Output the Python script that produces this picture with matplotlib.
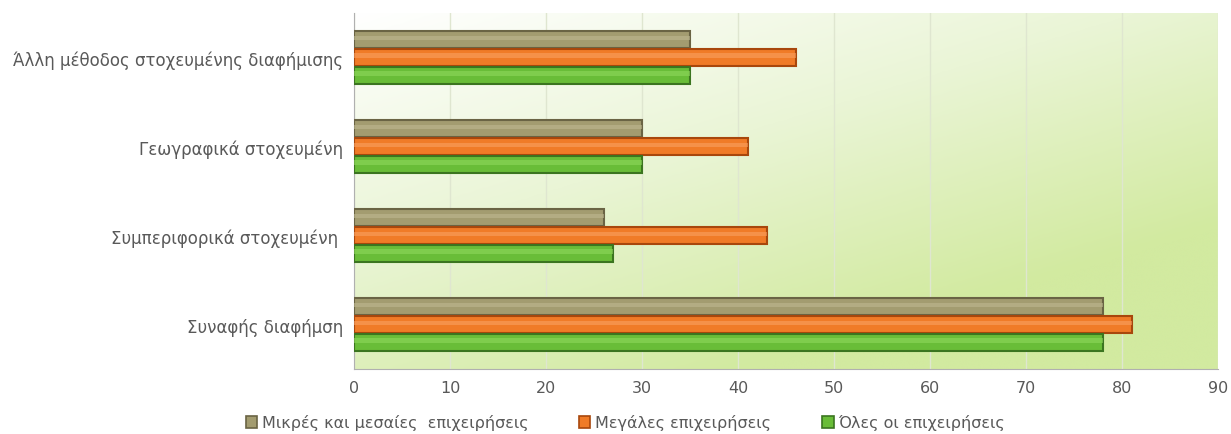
import numpy as np
import matplotlib
matplotlib.use("Agg")
import matplotlib.pyplot as plt
from matplotlib.colors import LinearSegmentedColormap
from matplotlib.patches import Patch

categories = ["Συναφής διαφήμση", "Συμπεριφορικά στοχευμένη ",
              "Γεωγραφικά στοχευμένη", "Άλλη μέθοδος στοχευμένης διαφήμισης"]
series = ["Μικρές και μεσαίες  επιχειρήσεις", "Μεγάλες επιχειρήσεις", "Όλες οι επιχειρήσεις"]
small_medium = [78, 26, 30, 35]
large = [81, 43, 41, 46]
all_firms = [78, 27, 30, 35]
xticks = list(range(0, 91, 10))

faces = ["#a39c70", "#f07b27", "#69bd38"]
edges = ["#6a6444", "#a8470c", "#3b7520"]
lights = ["#beb891", "#f9a060", "#8fd85c"]

plt.rcParams['font.family'] = ['DejaVu Sans']
fig = plt.figure(figsize=(12.31, 4.35), dpi=100)
ax = fig.add_axes([0.2876, 0.149, 0.7018, 0.819])

# background gradient: white top-left -> light green bottom-right
gx, gy = np.meshgrid(np.linspace(0, 1, 200), np.linspace(0, 1, 200))
g = np.clip(0.55 * gx + 0.75 * gy, 0, 1)
cmap = LinearSegmentedColormap.from_list("bg", ["#ffffff", "#eaf5d6", "#d2eaa0"])
ax.imshow(g, cmap=cmap, extent=[0, 90, -0.5, 3.5], aspect="auto",
          origin="upper", zorder=0, interpolation="bicubic")

y = np.arange(len(categories))
h = 0.2
offsets = [h, 0, -h]
for vals, off, fc, ec, lc, name in zip([small_medium, large, all_firms], offsets,
                                       faces, edges, lights, series):
    ax.barh(y + off, vals, height=h * 0.95, color=fc, edgecolor=ec,
            linewidth=1.5, zorder=3, label=name)
    ax.barh(y + off + h * 0.1, vals, height=h * 0.25, left=0, color=lc,
            linewidth=0, zorder=4, alpha=0.6)

ax.set_xlim(0, 90)
ax.set_ylim(-0.5, 3.5)
ax.set_xticks(xticks)
ax.set_yticks(y)
ax.set_yticklabels(categories, fontsize=12)
ax.xaxis.grid(True, color="#dfe6d0", linewidth=1, zorder=1)
ax.set_axisbelow(True)
ax.tick_params(axis="both", length=0, labelsize=11.5, colors="#595959", pad=8)
ax.tick_params(axis="y", labelsize=12)
for s in ["top", "right"]:
    ax.spines[s].set_visible(False)
for s in ["left", "bottom"]:
    ax.spines[s].set_color("#b0b0b0")

handles = [Patch(facecolor=fc, edgecolor=ec, linewidth=1.2) for fc, ec in zip(faces, edges)]
fig.legend(handles, series, loc="lower center", bbox_to_anchor=(0.508, -0.025), ncol=3,
           frameon=False, fontsize=11.5, handlelength=0.7, handleheight=0.7,
           handletextpad=0.3, columnspacing=3.2, labelcolor="#595959")

fig.savefig("out.png", dpi=100)
